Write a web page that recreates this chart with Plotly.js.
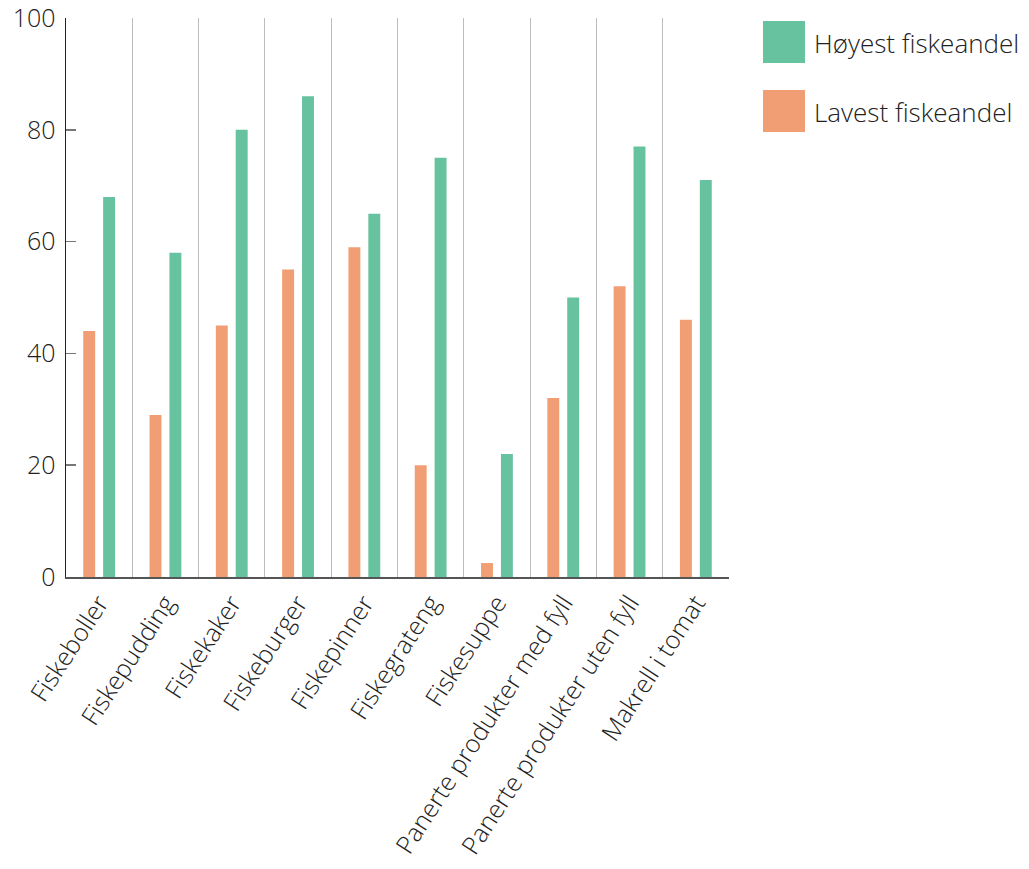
<!DOCTYPE html>
<html>
<head>
<meta charset="utf-8">
<script src="https://cdn.plot.ly/plotly-3.0.1.min.js"></script>
<style>html,body{margin:0;padding:0;background:#fff;}#chart{width:1029px;height:869px;}</style>
</head>
<body>
<div id="chart"></div>
<script>
const categories = ["Fiskeboller","Fiskepudding","Fiskekaker","Fiskeburger","Fiskepinner","Fiskegrateng","Fiskesuppe","Panerte produkter med fyll","Panerte produkter uten fyll","Makrell i tomat"];
const lavestName = "Lavest fiskeandel";
const hoyestName = "Høyest fiskeandel";
const lavest = [44, 29, 45, 55, 59, 20, 2.5, 32, 52, 46];
const hoyest = [68, 58, 80, 86, 65, 75, 22, 50, 77, 71];
const yTicks = [0, 20, 40, 60, 80, 100];

const green = "#66c29f";
const orange = "#f29e75";
const font = "Open Sans, Lato, sans-serif";

const traces = [
  {type:"bar", name:lavestName, x:categories, y:lavest, marker:{color:orange}, hoverinfo:"x+y"},
  {type:"bar", name:hoyestName, x:categories, y:hoyest, marker:{color:green}, hoverinfo:"x+y"}
];

const legendItems = [[hoyestName, green], [lavestName, orange]];
const shapes = [], annotations = [];
legendItems.forEach((it, i) => {
  const top = 21 + i * 69;
  shapes.push({type:"rect", xref:"paper", yref:"paper",
    x0:(763-66)/663, x1:(805-66)/663,
    y0:1-(top+42-18)/559, y1:1-(top-18)/559,
    fillcolor:it[1], line:{width:0}});
  annotations.push({xref:"paper", yref:"paper", x:(812-66)/663, y:1-(top+22-18)/559,
    xanchor:"left", yanchor:"middle", showarrow:false, text:it[0],
    font:{family:font, size:26, color:"#222", weight:300}});
});

const layout = {
  width:1029, height:869,
  margin:{l:66, r:300, t:18, b:292},
  paper_bgcolor:"#fff", plot_bgcolor:"#fff",
  showlegend:false,
  barmode:"group", bargap:0.4, bargroupgap:0.4,
  font:{family:font, color:"#222", weight:300},
  xaxis:{type:"category", tickson:"boundaries", showgrid:true, gridcolor:"#bdbdbd", gridwidth:1,
    ticks:"", tickangle:-57, tickfont:{family:font, size:25, color:"#222", weight:300},
    showline:true, linecolor:"#555", linewidth:1.5, zeroline:false},
  yaxis:{range:[0,100], tickvals:yTicks, ticks:"inside", ticklen:10, tickcolor:"#777", tickwidth:1.5,
    showgrid:false, zeroline:false, showline:true, linecolor:"#222", linewidth:1.5,
    ticklabelstandoff:4, ticklabeloverflow:"allow",
    tickfont:{family:font, size:25, color:"#222", weight:300}},
  shapes:shapes, annotations:annotations
};

Plotly.newPlot("chart", traces, layout, {displayModeBar:false, staticPlot:true});
</script>
</body>
</html>
